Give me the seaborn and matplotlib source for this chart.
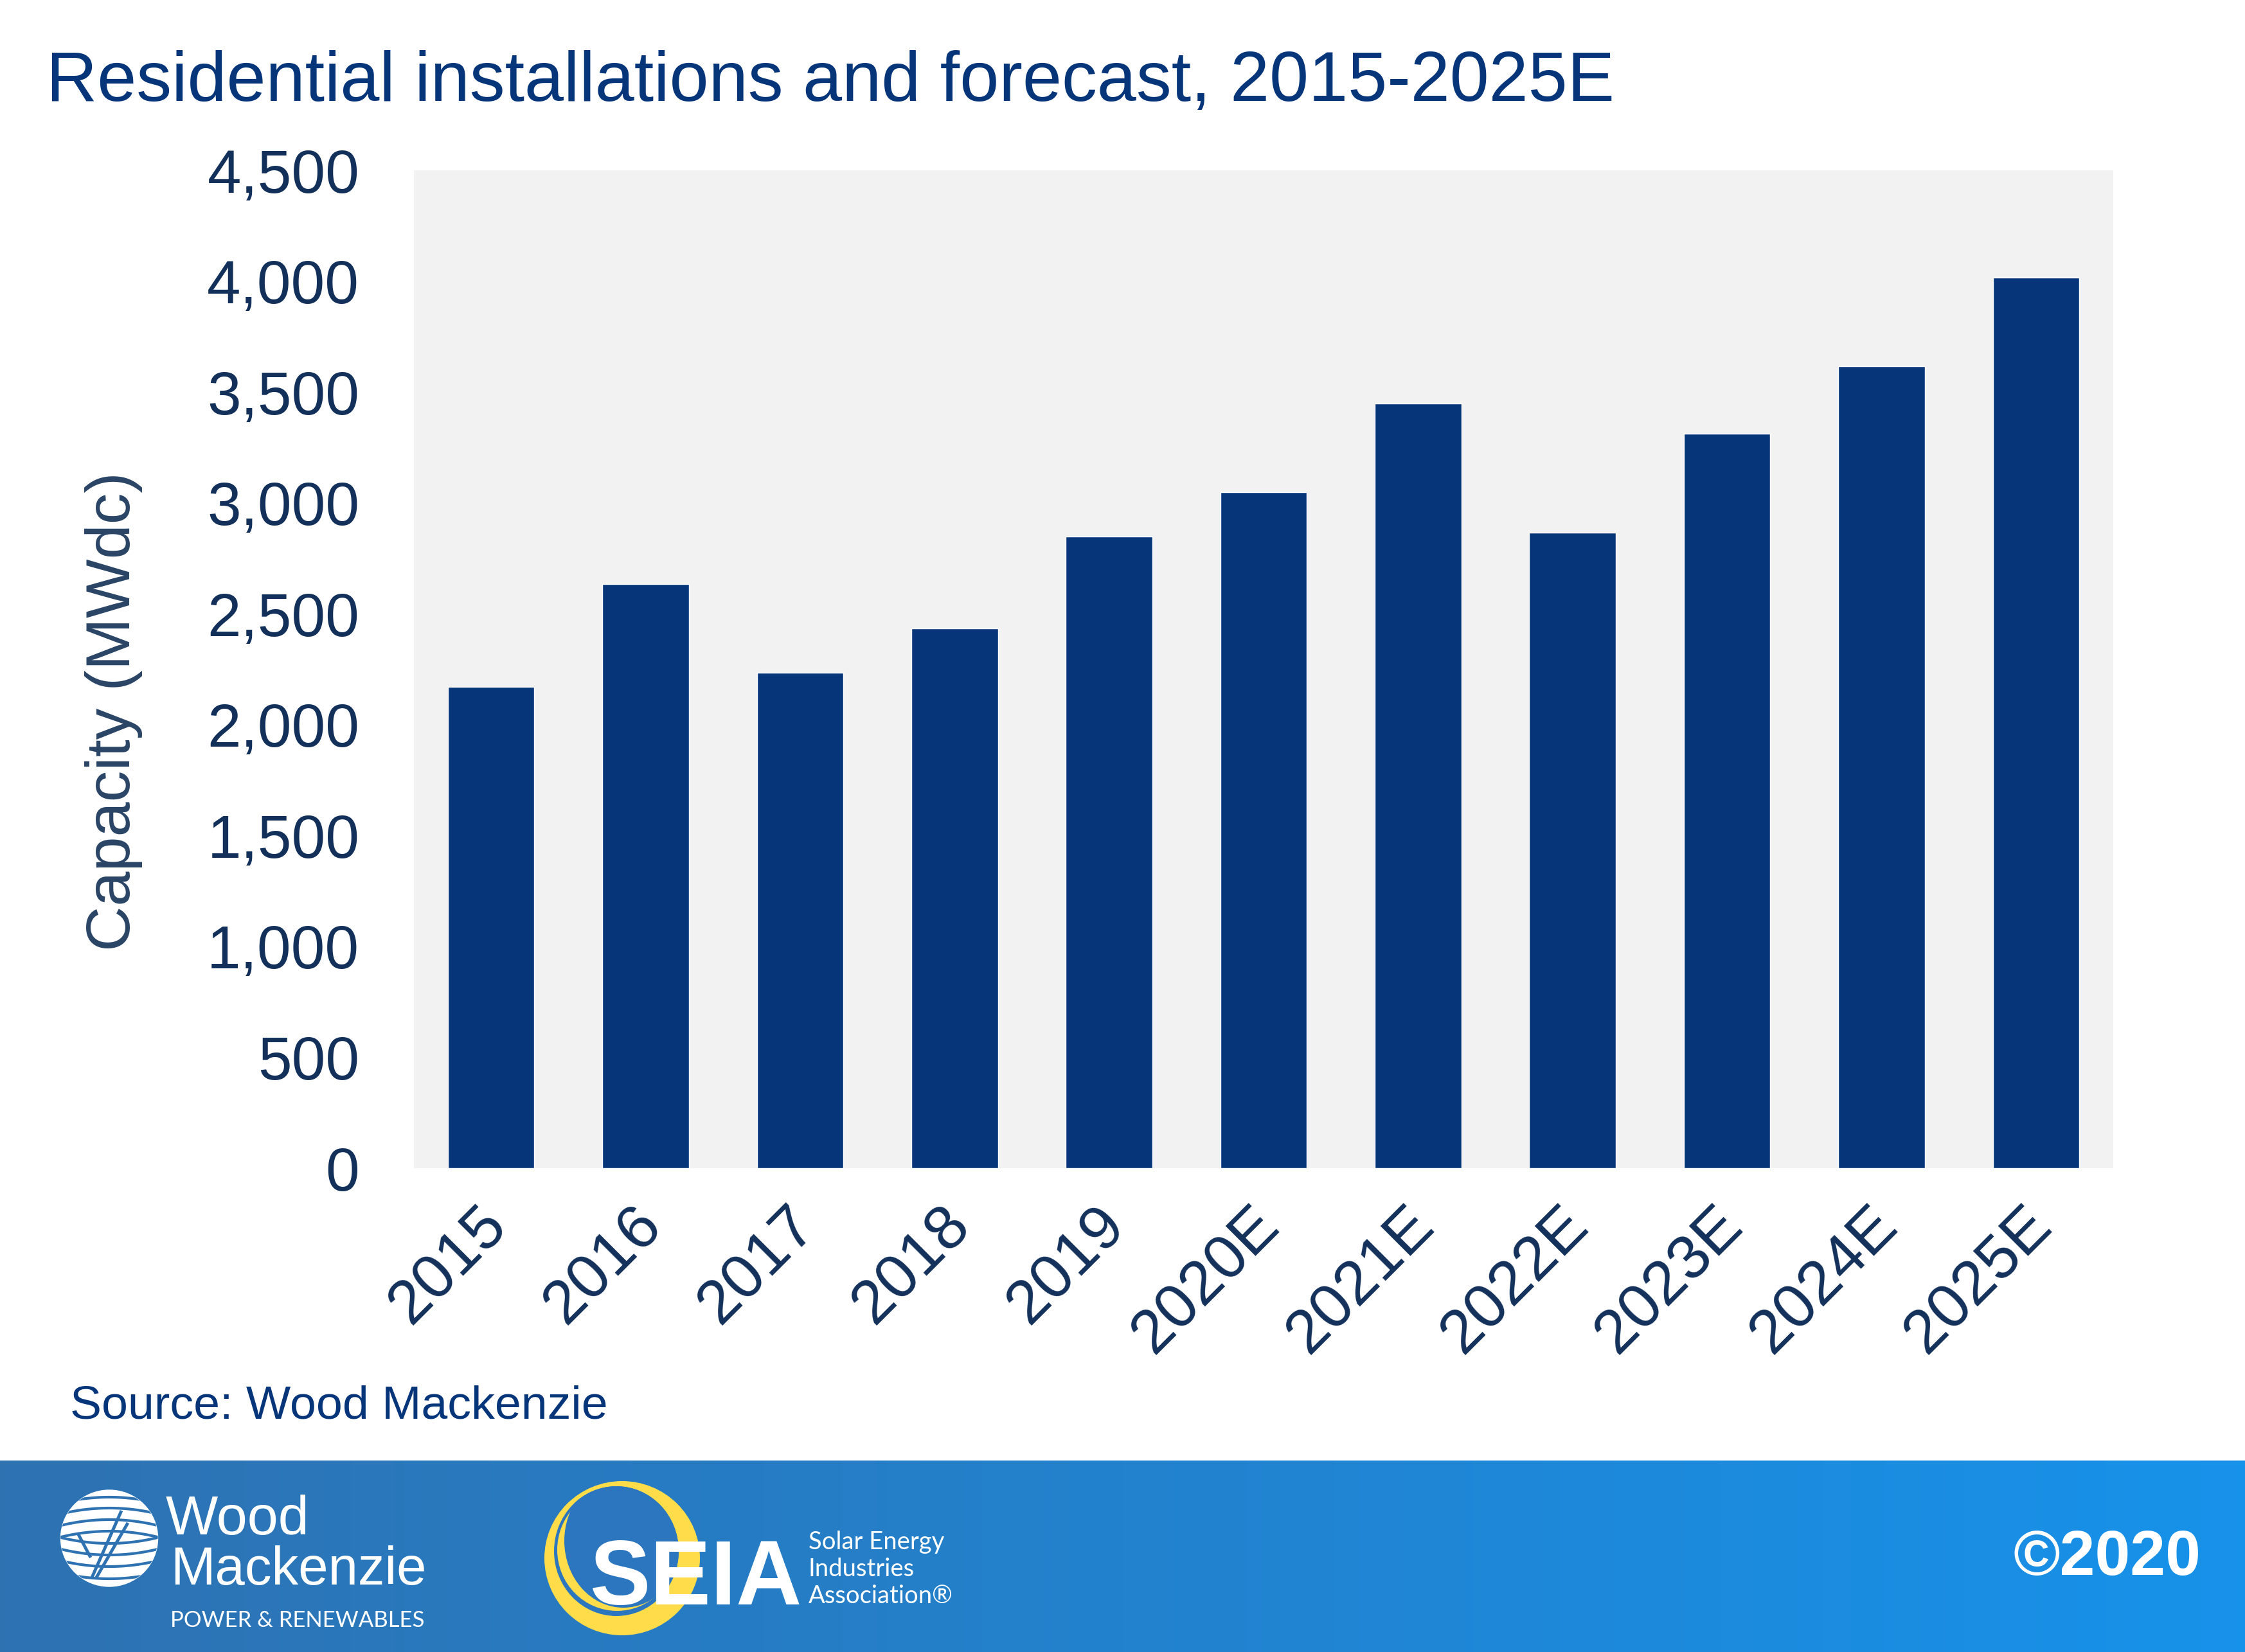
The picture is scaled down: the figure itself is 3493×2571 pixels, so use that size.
import matplotlib
matplotlib.use("Agg")
import matplotlib.pyplot as plt
import matplotlib.patches as mpatches
from matplotlib.colors import LinearSegmentedColormap
from matplotlib.transforms import ScaledTranslation
import numpy as np
import seaborn as sns

# Daten
years = ["2015", "2016", "2017", "2018", "2019", "2020E", "2021E", "2022E", "2023E", "2024E", "2025E"]
capacity = [2170, 2634, 2234, 2434, 2847, 3047, 3447, 2866, 3312, 3615, 4015]
y_ticks = [0, 500, 1000, 1500, 2000, 2500, 3000, 3500, 4000, 4500]

title = "Residential installations and forecast, 2015-2025E"
y_label = "Capacity (MWdc)"
source = "Source: Wood Mackenzie"

# Farben
navy = "#06357A"
tick_color = "#12305A"
panel = "#F2F2F2"
yellow = "#FFDD4A"
banner_left = "#2E72B2"
banner_right = "#1792EA"
logo_blue = "#2B76BE"

W, H = 3493, 2571
sns.set_theme(style="white")
plt.rcParams["font.family"] = ["Liberation Sans", "DejaVu Sans"]

fig = plt.figure(figsize=(W / 100, H / 100), dpi=100, facecolor="white")

# Hintergrund in Pixelkoordinaten (Banner, Logos, freie Texte)
bg = fig.add_axes([0, 0, 1, 1], zorder=0)
cmap = LinearSegmentedColormap.from_list("banner", [banner_left, banner_right])
bg.imshow(np.linspace(0, 1, 256).reshape(1, -1), cmap=cmap, aspect="auto", extent=(0, W, H, 2273))
bg.set_xlim(0, W)
bg.set_ylim(H, 0)
bg.axis("off")

bg.text(72, 157, title, color=navy, fontsize=79, va="baseline", ha="left")
bg.text(109, 2207, source, color=navy, fontsize=52.9, va="baseline", ha="left")
bg.text(3424, 2451, "©2020", color="white", fontsize=71, fontweight="bold", va="baseline", ha="right")

# Wood Mackenzie Logo
globe = mpatches.Ellipse((170, 2394), 151, 150, color="white", zorder=2)
bg.add_patch(globe)
for cy, curve in [(2330, 1), (2347, 1), (2365, 1), (2383, 1), (2402, -1), (2420, -1), (2438, -1), (2457, -1)]:
    xs = np.linspace(90, 250, 60)
    ys = cy + curve * 0.0016 * (xs - 170) ** 2
    line, = bg.plot(xs, ys, color=banner_left, lw=3, zorder=3)
    line.set_clip_path(globe)
for xs, ys in [([122, 141], [2388, 2424]), ([189, 143], [2351, 2455]), ([199, 150], [2370, 2455])]:
    bg.plot(xs, ys, color=banner_left, lw=3.5, zorder=4, solid_capstyle="butt")
bg.text(258, 2388, "Wood", color="white", fontsize=62, va="baseline", ha="left", zorder=5)
bg.text(265, 2466, "Mackenzie", color="white", fontsize=60, va="baseline", ha="left", zorder=5)
bg.text(265, 2532, "POWER & RENEWABLES", color="white", fontsize=25, family="Lato", va="baseline", ha="left", zorder=5)

# SEIA Logo
bg.add_patch(mpatches.Ellipse((968, 2425), 242, 240, color=yellow, lw=0, zorder=2))
gap = mpatches.Ellipse((959, 2414), 194, 202, color=logo_blue, lw=0, zorder=3)
bg.add_patch(gap)
inner = mpatches.Ellipse((960, 2412), 186, 190, color=yellow, lw=0, zorder=3)
bg.add_patch(inner)
hole = mpatches.Ellipse((970, 2398), 184, 208, color=logo_blue, lw=0, zorder=3)
bg.add_patch(hole)
hole.set_clip_path(gap)
bg.text(918, 2497, "SEIA", color="white", fontsize=102, fontweight="bold", va="baseline", ha="left", zorder=5)
bg.text(1258, 2411, "Solar Energy", color="white", fontsize=27.5, family="Lato", va="baseline", ha="left", zorder=5)
bg.text(1258, 2453, "Industries", color="white", fontsize=27.5, family="Lato", va="baseline", ha="left", zorder=5)
bg.text(1258, 2495, "Association®", color="white", fontsize=27.5, family="Lato", va="baseline", ha="left", zorder=5)

# Balkendiagramm
ax = fig.add_axes([644 / W, 1 - 1818 / H, (3288 - 644) / W, (1818 - 265) / H], zorder=1)
ax.set_facecolor(panel)
sns.barplot(x=years, y=capacity, color=navy, saturation=1, width=0.56, ax=ax)
ax.set_xlim(-0.5, len(years) - 0.5)
ax.set_ylim(0, 4500)
ax.set_yticks(y_ticks)
ax.set_yticklabels([f"{v:,}" for v in y_ticks])
ax.set_ylabel(y_label, fontsize=70, color="#2A4466")
ax.yaxis.set_label_coords(-0.1595, 0.458)
ax.set_xlabel("")
ax.tick_params(axis="y", length=0, pad=61, labelsize=68, labelcolor=tick_color)
ax.tick_params(axis="x", length=0, pad=31, labelsize=70, labelcolor=tick_color)
shift = ScaledTranslation(-16 / 72, 0, fig.dpi_scale_trans)
for lab in ax.get_xticklabels():
    lab.set_rotation(45)
    lab.set_ha("right")
    lab.set_rotation_mode("anchor")
    lab.set_transform(lab.get_transform() + shift)
sns.despine(ax=ax, left=True, bottom=True)

fig.savefig("out.png", dpi=100)
